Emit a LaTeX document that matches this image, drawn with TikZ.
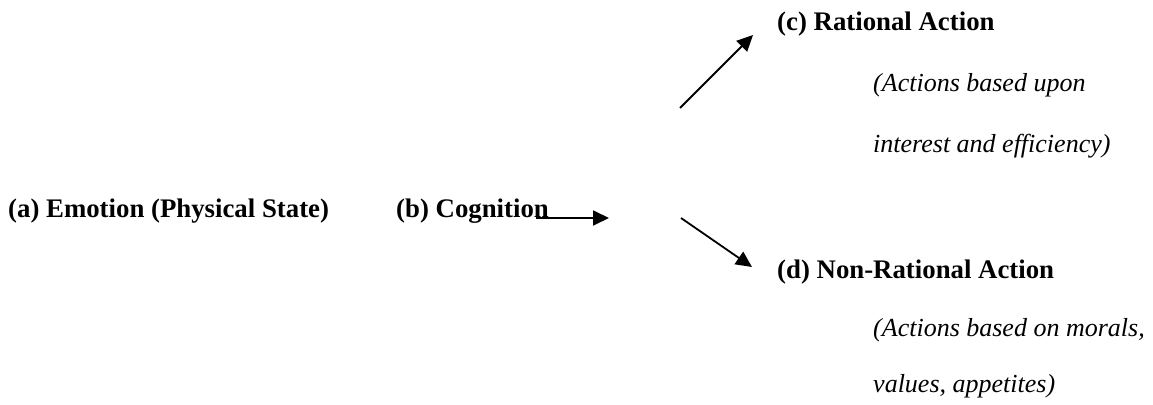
\documentclass[tikz,border=0pt]{standalone}
\usepackage{fontspec}
\setmainfont{Liberation Serif}
\usetikzlibrary{arrows.meta}

\begin{document}
\begin{tikzpicture}[x=1pt, y=-1pt]
\tikzstyle{heading}=[anchor=base west, inner sep=0pt, font=\fontsize{26.8}{30}\selectfont\bfseries]
\tikzstyle{note}=[anchor=base west, inner sep=0pt, font=\fontsize{26}{30}\selectfont\itshape]
\tikzstyle{flow}=[line width=1.8pt, -{Triangle[length=16pt, width=15pt]}]
\useasboundingbox (0,0) rectangle (1153,404);

\node[heading] (a) at (8,217) {(a) Emotion (Physical State)};
\node[heading] (b) at (396,217) {(b) Cognition};
\node[heading] (c) at (777,31) {(c) Rational Action};
\node[note] (c1) at (873,91) {(Actions based upon};
\node[note] (c2) at (873,152) {interest and efficiency)};
\node[heading] (d) at (777,278) {(d) Non-Rational Action};
\node[note] (d1) at (873,336) {(Actions based on morals,};
\node[note] (d2) at (873,392) {values, appetites)};

% arrow ends
\coordinate (bs) at (536,218);
\coordinate (bt) at (609,218);
\coordinate (cs) at (680,108);
\coordinate (ct) at (753,35);
\coordinate (ds) at (681,218);
\coordinate (dt) at (752,267);

\path[flow]
(bs) edge (bt)
(cs) edge (ct)
(ds) edge (dt);

\end{tikzpicture}
\end{document}
